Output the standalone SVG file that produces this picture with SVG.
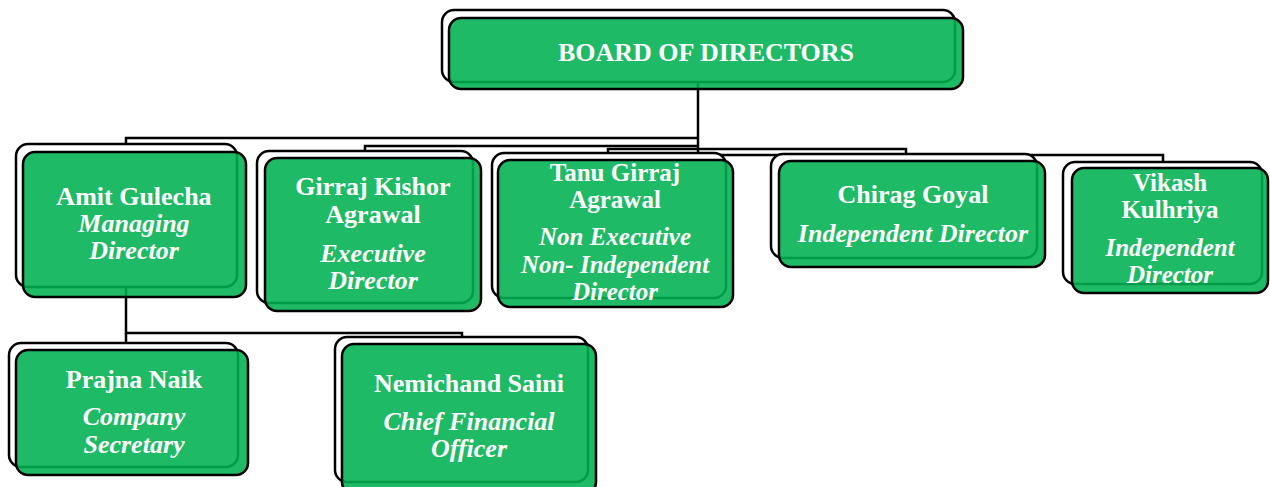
<svg xmlns="http://www.w3.org/2000/svg" width="1270" height="487" viewBox="0 0 1270 487">
<style>
.bg{fill:#ffffff;stroke:#000000;stroke-width:2.5}
.fg{fill:#00b050;fill-opacity:0.88;stroke:#000000;stroke-width:2.5}
.conn{fill:none;stroke:#000000;stroke-width:2.5}
text{font-family:"Liberation Serif","Times New Roman",serif;font-size:26px;fill:#ffffff;text-anchor:middle;font-weight:bold}
.it{font-style:italic}
.sm{font-size:25px}
</style>
<rect width="1270" height="487" fill="#ffffff"/>
<g id="connectors">
<path class="conn" d="M698,80 V154"/>
<path class="conn" d="M698,138 H126 V145"/>
<path class="conn" d="M698,146 H365 V152"/>
<path class="conn" d="M698,149 H608 V154"/>
<path class="conn" d="M698,149 H906 V155"/>
<path class="conn" d="M698,155 H1163 V162"/>
<path class="conn" d="M126,287 V333 H462 V338"/>
<path class="conn" d="M126,333 V344"/>
</g>
<g id="node-board">
<rect class="bg" x="442" y="10" width="513" height="72" rx="12"/>
<rect class="fg" x="449" y="18" width="514" height="71" rx="12"/>
<text x="706" y="61">BOARD OF DIRECTORS</text>
</g>
<g id="node-amit">
<rect class="bg" x="16" y="144" width="221" height="143" rx="12"/>
<rect class="fg" x="23" y="152" width="223" height="145" rx="12"/>
<text x="134" y="205">Amit Gulecha</text>
<text class="it" x="134" y="232">Managing</text>
<text class="it" x="134" y="259">Director</text>
</g>
<g id="node-girraj">
<rect class="bg" x="257" y="151" width="216" height="152" rx="12"/>
<rect class="fg" x="265" y="158" width="216" height="153" rx="12"/>
<text x="373" y="195">Girraj Kishor</text>
<text x="373" y="223">Agrawal</text>
<text class="it" x="373" y="262">Executive</text>
<text class="it" x="373" y="289">Director</text>
</g>
<g id="node-tanu">
<rect class="bg" x="492" y="153" width="234" height="145" rx="12"/>
<rect class="fg" x="498" y="160" width="235" height="147" rx="12"/>
<text class="sm" x="615" y="181">Tanu Girraj</text>
<text class="sm" x="615" y="208">Agrawal</text>
<text class="it sm" x="615" y="245">Non Executive</text>
<text class="it sm" x="615" y="273">Non- Independent</text>
<text class="it sm" x="615" y="300">Director</text>
</g>
<g id="node-chirag">
<rect class="bg" x="771" y="154" width="266" height="104" rx="12"/>
<rect class="fg" x="779" y="161" width="266" height="106" rx="12"/>
<text x="913" y="203">Chirag Goyal</text>
<text class="it" x="913" y="242">Independent Director</text>
</g>
<g id="node-vikash">
<rect class="bg" x="1063" y="162" width="199" height="122" rx="12"/>
<rect class="fg" x="1072" y="168" width="196" height="125" rx="12"/>
<text class="sm" x="1170" y="191">Vikash</text>
<text class="sm" x="1170" y="218">Kulhriya</text>
<text class="it sm" x="1170" y="256">Independent</text>
<text class="it sm" x="1170" y="283">Director</text>
</g>
<g id="node-prajna">
<rect class="bg" x="9" y="343" width="229" height="124" rx="12"/>
<rect class="fg" x="16" y="350" width="232" height="125" rx="12"/>
<text x="134" y="388">Prajna Naik</text>
<text class="it" x="134" y="425">Company</text>
<text class="it" x="134" y="453">Secretary</text>
</g>
<g id="node-nemichand">
<rect class="bg" x="335" y="337" width="253" height="145" rx="12"/>
<rect class="fg" x="342" y="344" width="254" height="150" rx="12"/>
<text x="469" y="392">Nemichand Saini</text>
<text class="it" x="469" y="430">Chief Financial</text>
<text class="it" x="469" y="457">Officer</text>
</g>
</svg>
